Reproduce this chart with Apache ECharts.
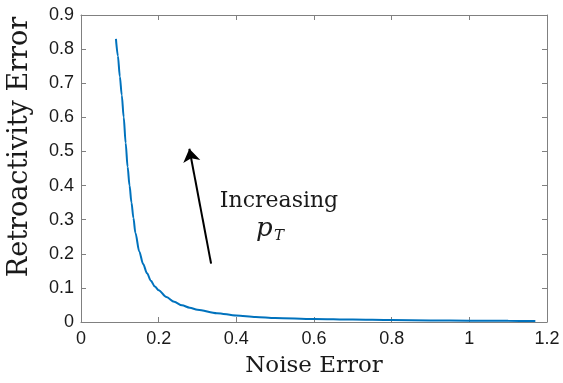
<!DOCTYPE html>
<html>
<head>
<meta charset="utf-8">
<script src="https://cdn.jsdelivr.net/npm/echarts@6/dist/echarts.min.js"></script>
<style>
  html, body { margin: 0; padding: 0; background: #fff; }
  #chart { width: 563px; height: 383px; }
</style>
</head>
<body>
<div id="chart"></div>
<script>
// noise error (x) vs retroactivity error (y)
const noiseError = [0.09, 0.095, 0.1, 0.105, 0.11, 0.115, 0.12, 0.125, 0.13, 0.135, 0.14, 0.15, 0.16, 0.17, 0.18, 0.19, 0.2, 0.22, 0.24, 0.26, 0.28, 0.3, 0.35, 0.4, 0.45, 0.5, 0.6, 0.7, 0.8, 0.9, 1.0, 1.1, 1.17];
const retroError = [0.83, 0.78, 0.72, 0.665, 0.6, 0.525, 0.455, 0.4, 0.35, 0.305, 0.262, 0.207, 0.17, 0.143, 0.121, 0.104, 0.093, 0.073, 0.059, 0.049, 0.042, 0.036, 0.026, 0.019, 0.015, 0.012, 0.009, 0.007, 0.0055, 0.0045, 0.004, 0.0033, 0.003];

// arrow from tail to head, data coords
const arrowTail = [0.335, 0.171];
const arrowHead = [0.279, 0.508];

const xTicks = { min: 0, max: 1.2, interval: 0.2 };
const yTicks = { min: 0, max: 0.9, interval: 0.1 };

const axisGray = '#808080';
const textDark = '#1a1a1a';
const serif = '"DejaVu Serif", "Liberation Serif", serif';
const sans = '"Liberation Sans", Arial, sans-serif';

const chart = echarts.init(document.getElementById('chart'), null, { renderer: 'canvas' });

const tickStyle = { show: true, inside: true, length: 5, lineStyle: { color: axisGray } };

const option = {
  animation: false,
  backgroundColor: '#fff',
  grid: { left: 81, top: 15, right: 16, bottom: 51, containLabel: false },
  xAxis: [
    {
      type: 'value', ...xTicks,
      name: 'Noise Error',
      nameLocation: 'middle',
      nameGap: 33,
      nameTextStyle: { fontFamily: serif, fontSize: 23, color: textDark },
      axisLine: { show: true, onZero: false, lineStyle: { color: axisGray, width: 1 } },
      axisTick: tickStyle,
      axisLabel: { fontFamily: sans, fontSize: 18, color: textDark, margin: 8 },
      splitLine: { show: false }
    },
    {
      type: 'value', ...xTicks, position: 'top',
      axisLine: { show: true, onZero: false, lineStyle: { color: axisGray, width: 1 } },
      axisTick: tickStyle,
      axisLabel: { show: false },
      splitLine: { show: false }
    }
  ],
  yAxis: [
    {
      type: 'value', ...yTicks,
      axisLine: { show: true, onZero: false, lineStyle: { color: axisGray, width: 1 } },
      axisTick: tickStyle,
      axisLabel: { fontFamily: sans, fontSize: 18, color: textDark, margin: 7 },
      splitLine: { show: false }
    },
    {
      type: 'value', ...yTicks, position: 'right',
      axisLine: { show: true, onZero: false, lineStyle: { color: axisGray, width: 1 } },
      axisTick: tickStyle,
      axisLabel: { show: false },
      splitLine: { show: false }
    }
  ],
  series: [
    {
      type: 'line',
      data: noiseError.map((x, i) => [x, retroError[i]]),
      showSymbol: false,
      smooth: 0.3,
      smoothMonotone: 'x',
      lineStyle: { color: '#0072BD', width: 2 },
      markLine: {
        silent: true,
        symbol: ['none', 'arrow'],
        symbolSize: 13,
        label: { show: false },
        lineStyle: { color: '#000', width: 2, type: 'solid' },
        data: [[{ coord: arrowTail }, { coord: arrowHead }]]
      }
    }
  ],
  graphic: [
    {
      type: 'text', x: 20, y: 147, rotation: Math.PI / 2,
      style: { text: 'Retroactivity Error', font: '27px ' + serif, fill: textDark, align: 'center', verticalAlign: 'middle' }
    },
    {
      type: 'text', x: 279, y: 201,
      style: { text: 'Increasing', font: '22px ' + serif, fill: textDark, align: 'center', verticalAlign: 'middle' }
    },
    {
      type: 'text', x: 256, y: 229,
      style: { text: 'p', font: 'italic 26px ' + serif, fill: textDark, align: 'left', verticalAlign: 'middle' }
    },
    {
      type: 'text', x: 274, y: 236,
      style: { text: 'T', font: 'italic 15px ' + serif, fill: textDark, align: 'left', verticalAlign: 'middle' }
    }
  ]
};

chart.setOption(option);
</script>
</body>
</html>
